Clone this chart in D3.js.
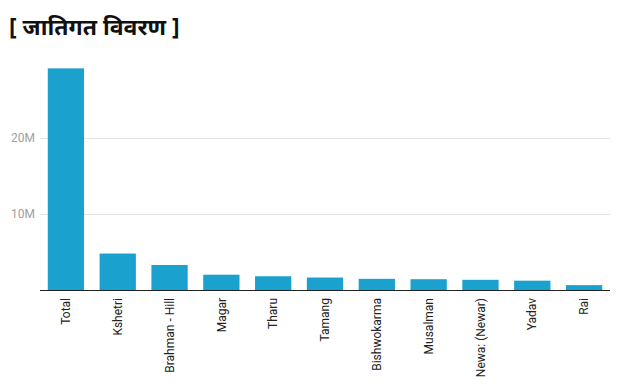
<!DOCTYPE html>
<html><head><meta charset="utf-8">
<script src="https://cdn.jsdelivr.net/npm/d3@7"></script>
<style>body{margin:0;background:#fff}svg{display:block}</style>
</head><body>
<svg id="c" width="619" height="387"></svg>
<script>
const categories = ["Total","Kshetri","Brahman - Hill","Magar","Tharu","Tamang","Bishwokarma","Musalman","Newa: (Newar)","Yadav","Rai"];
const values = [29164578,4796995,3292373,2013498,1807124,1639866,1470010,1418677,1341363,1228581,640674];
const yTicks = [10e6, 20e6];
const tickLabels = ["10M","20M"];
const title = "[ जातिगत विवरण ]";

const svg = d3.select("#c");
const x = d3.scaleBand().domain(categories).range([40, 610]).paddingInner(0.3).paddingOuter(0.15);
const y = d3.scaleLinear().domain([0, 30e6]).range([290, 62]);

svg.append("text").attr("x", 9).attr("y", 35).text(title)
  .attr("font-family", "'Noto Sans', 'Lato', sans-serif").attr("font-weight", "bold")
  .attr("font-size", 23).attr("fill", "#111");

const g = svg.append("g");
g.selectAll("line.grid").data(yTicks).join("line").attr("class","grid")
  .attr("x1", 40).attr("x2", 610).attr("y1", d => y(d)).attr("y2", d => y(d))
  .attr("stroke", "#e5e5e5").attr("stroke-width", 1).attr("shape-rendering","crispEdges");
g.selectAll("text.tick").data(yTicks).join("text").attr("class","tick")
  .attr("x", 35).attr("y", d => y(d)).attr("dy", "0.35em").attr("text-anchor","end")
  .attr("font-family","Roboto, sans-serif").attr("font-size", 12).attr("fill","#a0a0a0")
  .text((d,i) => tickLabels[i]);

g.selectAll("rect").data(values).join("rect")
  .attr("x", (d,i) => x(categories[i])).attr("width", x.bandwidth())
  .attr("y", d => y(d)).attr("height", d => y(0) - y(d)).attr("fill", "#1aa1cd");

g.append("line").attr("x1", 40).attr("x2", 610).attr("y1", y(0)+0.5).attr("y2", y(0)+0.5)
  .attr("stroke", "#222").attr("stroke-width", 1.2);

g.selectAll("text.cat").data(categories).join("text").attr("class","cat")
  .attr("transform", d => `translate(${x(d) + x.bandwidth()/2},298) rotate(-90)`)
  .attr("dy","0.35em").attr("text-anchor","end")
  .attr("font-family","Roboto, sans-serif").attr("font-size", 12).attr("fill","#222")
  .text(d => d);
</script>
</body></html>
